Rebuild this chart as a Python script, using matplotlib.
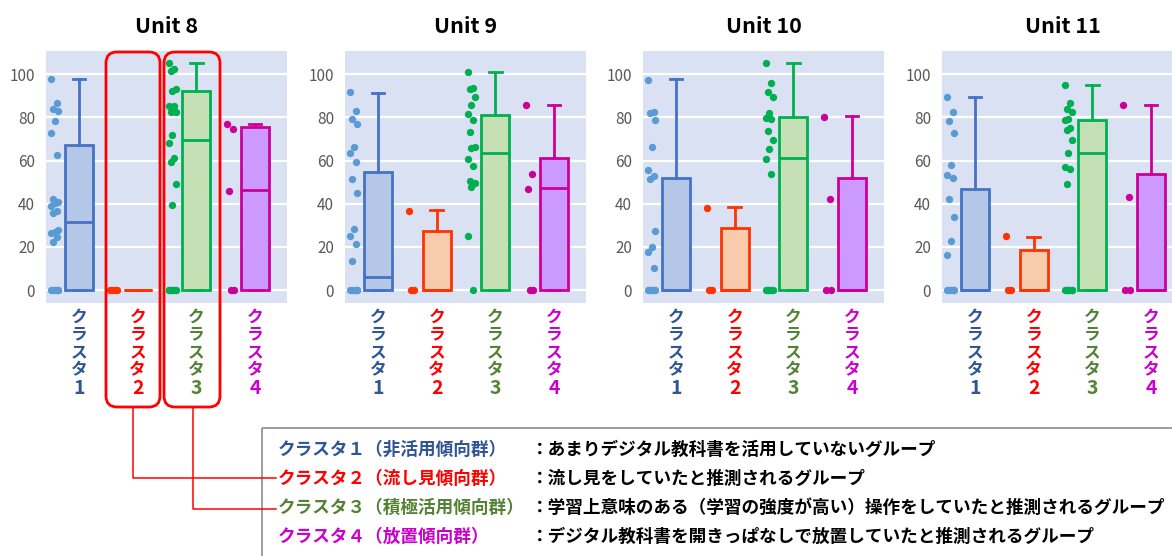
import numpy as np
import matplotlib
matplotlib.use("Agg")
import matplotlib.pyplot as plt
from matplotlib.patches import FancyBboxPatch, Rectangle
from matplotlib.transforms import blended_transform_factory

plt.rcParams['font.family'] = ['Noto Sans CJK JP', 'DejaVu Sans']

# ---- data ----
units = ['Unit 8', 'Unit 9', 'Unit 10', 'Unit 11']
cluster_chars = ['ク', 'ラ', 'ス', 'タ']
cluster_nums = ['1', '2', '3', '4']

# box stats per unit: (q3, median, upper whisker); q1 and lower whisker are 0
q3 = [[67.3, 0.0, 92.4, 75.4],
      [54.9, 27.4, 81.1, 61.4],
      [51.8, 28.9, 80.1, 51.8],
      [47.0, 18.4, 78.8, 53.6]]
med = [[31.5, 0.0, 69.7, 46.2],
       [5.9, 0.0, 63.4, 47.1],
       [0.0, 0.0, 61.1, 0.0],
       [0.0, 0.0, 63.4, 0.0]]
whi = [[97.8, 0.0, 105.3, 77.0],
       [91.5, 36.9, 101.2, 85.8],
       [97.8, 38.5, 105.3, 80.7],
       [89.6, 24.6, 95.2, 85.8]]

# individual observations (strip points)
pts_u8 = [
    [97.8, 86.6, 83.9, 83.0, 78.5, 72.6, 62.6, 42.2, 41.0, 40.2, 39.1, 36.6, 35.9,
     27.8, 26.7, 26.3, 24.7, 22.1, 0, 0, 0, 0, 0, 0],
    [0, 0, 0, 0],
    [105.4, 102.3, 101.5, 93.0, 92.4, 85.3, 85.3, 82.7, 82.7, 72.0, 68.2, 61.4, 59.2,
     49.0, 39.4, 0, 0, 0, 0, 0, 0],
    [77.0, 74.7, 45.9, 0, 0],
]
pts_u9 = [
    [91.7, 83.2, 79.4, 77.0, 66.2, 63.4, 59.5, 51.6, 45.0, 28.1, 25.2, 21.3, 13.3,
     0, 0, 0, 0, 0, 0],
    [36.5, 0, 0],
    [101.2, 93.5, 93.0, 89.3, 85.8, 81.6, 78.8, 73.1, 66.5, 65.7, 60.7, 57.5, 50.4,
     49.8, 47.8, 25.0, 0],
    [85.8, 53.6, 47.0, 0, 0],
]
pts_u10 = [
    [97.4, 82.5, 82.2, 78.8, 66.5, 55.6, 52.9, 51.3, 27.2, 20.1, 17.5, 10.4,
     0, 0, 0, 0, 0, 0],
    [38.2, 0, 0],
    [105.3, 96.0, 92.0, 89.6, 82.2, 79.9, 79.3, 73.9, 69.7, 65.2, 60.6, 53.9,
     0, 0, 0, 0, 0],
    [80.4, 42.3, 0, 0],
]
pts_u11 = [
    [89.6, 82.5, 78.4, 73.0, 57.8, 53.3, 51.8, 42.0, 33.8, 22.7, 16.2,
     0, 0, 0, 0, 0, 0],
    [24.9, 0, 0],
    [95.2, 86.7, 84.1, 82.7, 79.3, 78.8, 75.1, 74.2, 69.6, 63.4, 57.2, 56.0, 49.0,
     0, 0, 0, 0, 0, 0, 0],
    [85.8, 43.3, 0, 0],
]
points = [pts_u8, pts_u9, pts_u10, pts_u11]

legend_names = ['クラスタ１（非活用傾向群）', 'クラスタ２（流し見傾向群）',
                'クラスタ３（積極活用傾向群）', 'クラスタ４（放置傾向群）']
legend_desc = ['：あまりデジタル教科書を活用していないグループ',
               '：流し見をしていたと推測されるグループ',
               '：学習上意味のある（学習の強度が高い）操作をしていたと推測されるグループ',
               '：デジタル教科書を開きっぱなしで放置していたと推測されるグループ']

# ---- styles ----
edge_cols = ['#4472C4', '#FF3300', '#00B050', '#CC0099']
fill_cols = ['#B4C7E7', '#F8CBAD', '#C5E0B4', '#CC99FF']
dot_cols = ['#5B9BD5', '#FF3300', '#00B050', '#CC0099']
label_cols = ['#2F5597', '#FF0000', '#548235', '#CC00CC']
bg = '#D9E1F2'

W, H = 1172, 556
fig = plt.figure(figsize=(W / 100, H / 100), dpi=100)

panel_left = [46, 345, 643, 942]
panel_w, top, bottom = 241, 51, 303


def frac(x, y, w, h):
    return [x / W, (H - y - h) / H, w / W, h / H]


for u, (name, left) in enumerate(zip(units, panel_left)):
    ax = fig.add_axes(frac(left, top, panel_w, bottom - top))
    ax.set_facecolor(bg)
    for s in ax.spines.values():
        s.set_visible(False)

    stats = []
    for c in range(4):
        stats.append(dict(med=med[u][c], q1=0.0, q3=q3[u][c],
                          whislo=0.0, whishi=whi[u][c], fliers=[]))
    bp = ax.bxp(stats, positions=range(4), widths=0.48, capwidths=0.22,
                patch_artist=True, showfliers=False, manage_ticks=False)
    for c in range(4):
        bp['boxes'][c].set(facecolor=fill_cols[c], edgecolor=edge_cols[c], lw=2.0)
        bp['medians'][c].set(color=edge_cols[c], lw=2.0)
        for k in (2 * c, 2 * c + 1):
            bp['whiskers'][k].set(color=edge_cols[c], lw=2.0)
            bp['caps'][k].set(color=edge_cols[c], lw=2.0)
        vals = np.array(points[u][c], dtype=float)
        jit = np.array([((i * 3) % 5 - 2) * 0.03 for i in range(len(vals))])
        ax.scatter(c - 0.41 + jit, vals, s=28, color=dot_cols[c], zorder=3,
                   linewidths=0)

    ax.set_xlim(-0.563, 3.546)
    ax.set_ylim(-6, 110.8)
    ax.set_yticks(range(0, 101, 20))
    ax.tick_params(axis='y', length=0, pad=8, labelsize=11, labelcolor='#595959')
    ax.set_xticks([])
    ax.grid(axis='y', color='white', lw=1.6)
    ax.set_axisbelow(True)

    ax.set_title(name, fontsize=15.5, fontweight='bold', pad=13)

    # vertical cluster labels, one character per row
    tr = blended_transform_factory(ax.transData, fig.transFigure)
    for c in range(4):
        chars = cluster_chars + [cluster_nums[c]]
        for i, ch in enumerate(chars):
            size = 12 if i < 4 else 14
            ax.text(c, 1 - (317 + i * 17.8) / H, ch, transform=tr, ha='center',
                    va='center', fontsize=size, fontweight='bold',
                    color=label_cols[c])

# ---- overlay for annotations ----
ov = fig.add_axes([0, 0, 1, 1], zorder=10)
ov.set_xlim(0, W)
ov.set_ylim(H, 0)
ov.axis('off')
ov.patch.set_alpha(0)

for x0, x1 in [(106, 160), (164, 220)]:
    ov.add_patch(FancyBboxPatch((x0, 52), x1 - x0, 355,
                                boxstyle='round,pad=0,rounding_size=11',
                                fc='none', ec='#FF0000', lw=2.0))

ov.add_patch(Rectangle((262, 428), 1000, 200, fc='none', ec='#8C8C8C', lw=1.2))

ov.plot([133, 133, 276], [407, 478, 478], color='#FF0000', lw=1.1)
ov.plot([193, 193, 276], [407, 509, 509], color='#FF0000', lw=1.1)

row_y = [450, 479, 508, 537]
for i in range(4):
    ov.text(278, row_y[i], legend_names[i], color=label_cols[i], fontsize=12.7,
            fontweight='bold', va='center', ha='left')
    ov.text(531, row_y[i], legend_desc[i], color='black', fontsize=12.7,
            fontweight='bold', va='center', ha='left')

fig.savefig('out.png', dpi=100)
